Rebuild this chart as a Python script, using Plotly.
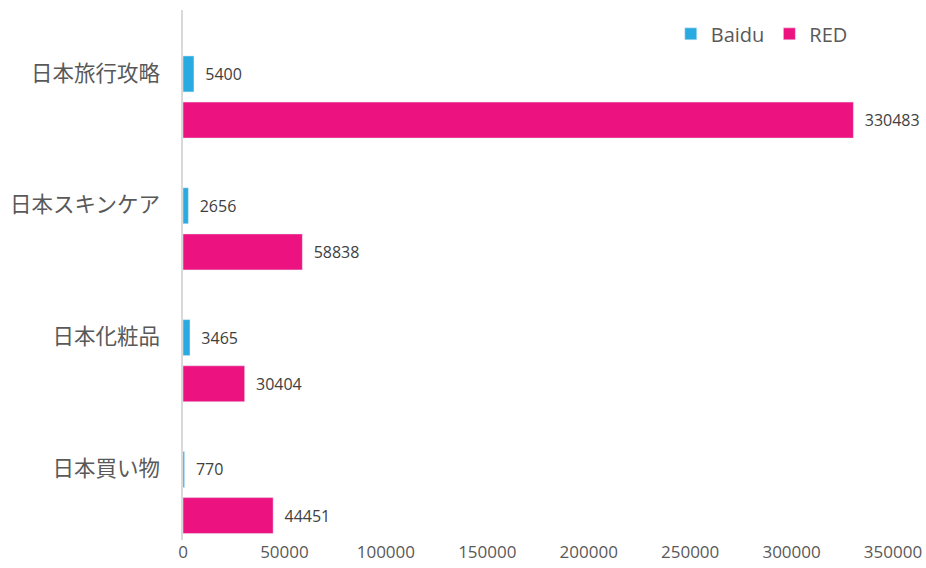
import plotly.graph_objects as go

categories = ["日本旅行攻略", "日本スキンケア", "日本化粧品", "日本買い物"]
baidu = [5400, 2656, 3465, 770]
red = [330483, 58838, 30404, 44451]
x_ticks = [0, 50000, 100000, 150000, 200000, 250000, 300000, 350000]

label_font = dict(color="#404040", size=16, family="Open Sans")

fig = go.Figure()
fig.add_trace(go.Bar(
    name="Baidu", y=categories, x=baidu, orientation="h",
    marker=dict(color="#29ABE2"),
    text=[str(v) for v in baidu], texttemplate="\u00a0\u00a0%{text}", textposition="outside",
    textfont=label_font, cliponaxis=False, constraintext="none",
))
fig.add_trace(go.Bar(
    name="RED", y=categories, x=red, orientation="h",
    marker=dict(color="#EC1380"),
    text=[str(v) for v in red], texttemplate="\u00a0\u00a0%{text}", textposition="outside",
    textfont=label_font, cliponaxis=False, constraintext="none",
))

fig.update_layout(
    width=926, height=568,
    margin=dict(l=183, r=33, t=10, b=28, autoexpand=False),
    paper_bgcolor="white", plot_bgcolor="white",
    barmode="group", bargap=0.30, bargroupgap=0.22,
    font=dict(family="Noto Sans CJK JP", color="#595959"),
    legend=dict(orientation="h", x=0.687, y=0.955, xanchor="left", yanchor="middle",
                font=dict(size=20, family="Open Sans", color="#595959"),
                traceorder="normal"),
    showlegend=True,
)
fig.update_xaxes(
    range=[0, 350000], tickvals=x_ticks, ticktext=[str(v) for v in x_ticks],
    showgrid=False, zeroline=False, showline=False, automargin=False,
    tickfont=dict(size=17, family="Open Sans", color="#595959"),
)
fig.update_yaxes(
    range=[3.36, -0.66], showgrid=False, zeroline=False, automargin=False,
    showline=True, linecolor="#D9D9D9", linewidth=1.5,
    ticks="", tickfont=dict(size=21.5, family="Noto Sans CJK JP", color="#595959"),
    ticklabelstandoff=17, ticklabelshift=24,
)

fig.write_html("out.html", config={"displayModeBar": False})

with open("out.html", "r", encoding="utf-8") as f:
    html = f.read()
html = html.replace("<head>", "<head><style>html,body{margin:0;padding:0;overflow:hidden;}</style>", 1)
with open("out.html", "w", encoding="utf-8") as f:
    f.write(html)
